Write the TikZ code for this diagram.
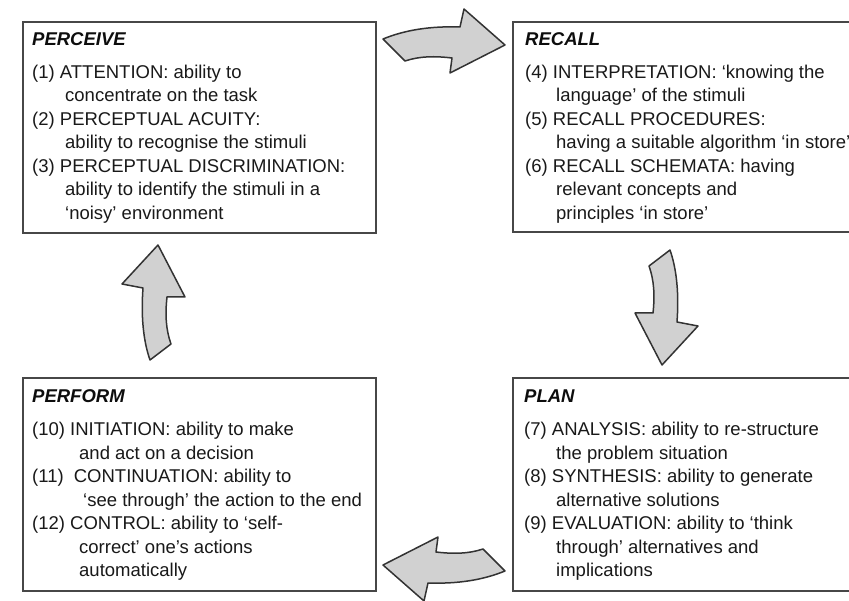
\documentclass[tikz,border=0pt]{standalone}
\usepackage{fontspec}
\setmainfont{Liberation Sans}
\begin{document}
\newcommand{\itemfont}{\fontsize{18.5}{23.5}\selectfont\color{black!90}}
\newcommand{\titlefont}{\fontsize{18.5}{23.5}\selectfont\bfseries\itshape\color{black!95}}
\begin{tikzpicture}[x=1pt,y=-1pt,
  stagebox/.style={draw=black!72, line width=2.4pt, fill=white},
  stagetitle/.style={anchor=base west, inner sep=0pt, font=\titlefont},
  stagebody/.style={anchor=base west, inner sep=0pt, font=\itemfont},
  blockarrow/.style={draw=black!80, line width=1.5pt, fill=black!18, line join=round}]
\useasboundingbox (0,0) rectangle (849,601);
\clip (0,0) rectangle (849,601);

% the four stage boxes (the right-hand ones run past the page edge)
\draw[stagebox] (23,22) rectangle (376,233) node[pos=0, coordinate] (perceive) {};
\draw[stagebox] (513,22) rectangle (880,232) node[pos=0, coordinate] (recall) {};
\draw[stagebox] (513,378) rectangle (880,591) node[pos=0, coordinate] (plan) {};
\draw[stagebox] (23,378) rectangle (376,591) node[pos=0, coordinate] (perform) {};

% PERCEIVE
\node[stagetitle] (perceive-title) at (32,46) {PERCEIVE};
\node[stagebody] (perceive-body) at (32,78.5) {\begin{tabular}[t]{@{}l@{}}
(1) ATTENTION: ability to\\
\hspace*{33pt}concentrate on the task\\
(2) PERCEPTUAL ACUITY:\\
\hspace*{33pt}ability to recognise the stimuli\\
(3) PERCEPTUAL DISCRIMINATION:\\
\hspace*{33pt}ability to identify the stimuli in a\\
\hspace*{33pt}`noisy' environment
\end{tabular}};

% RECALL
\node[stagetitle] (recall-title) at (525,46) {RECALL};
\node[stagebody] (recall-body) at (525,78.5) {\begin{tabular}[t]{@{}l@{}}
(4) INTERPRETATION: `knowing the\\
\hspace*{31pt}language' of the stimuli\\
(5) RECALL PROCEDURES:\\
\hspace*{31pt}having a suitable algorithm `in store'\\
(6) RECALL SCHEMATA: having\\
\hspace*{31pt}relevant concepts and\\
\hspace*{31pt}principles `in store'
\end{tabular}};

% PLAN
\node[stagetitle] (plan-title) at (524,403) {PLAN};
\node[stagebody] (plan-body) at (524,436) {\begin{tabular}[t]{@{}l@{}}
(7) ANALYSIS: ability to re-structure\\
\hspace*{32pt}the problem situation\\
(8) SYNTHESIS: ability to generate\\
\hspace*{32pt}alternative solutions\\
(9) EVALUATION: ability to `think\\
\hspace*{32pt}through' alternatives and\\
\hspace*{32pt}implications
\end{tabular}};

% PERFORM
\node[stagetitle] (perform-title) at (32,403) {PERFORM};
\node[stagebody] (perform-body) at (32,436) {\begin{tabular}[t]{@{}l@{}}
(10) INITIATION: ability to make\\
\hspace*{47pt}and act on a decision\\
(11)\hspace{5pt} CONTINUATION: ability to\\
\hspace*{51pt}`see through' the action to the end\\
(12) CONTROL: ability to `self-\\
\hspace*{47pt}correct' one's actions\\
\hspace*{47pt}automatically
\end{tabular}};

% bent block arrows running round the cycle
% perceive -> recall
\draw[blockarrow] (383,39) .. controls (405,30) and (430,26) .. (460,27)
  -- (464,9) -- (505,45) -- (450,73) -- (452,58)
  .. controls (435,56) and (420,56) .. (405,61) -- cycle;
% recall -> plan
\draw[blockarrow] (670,250) .. controls (677,270) and (679,295) .. (677,322)
  -- (698,326) -- (662,365) -- (635,313) -- (653,313)
  .. controls (655,295) and (654,280) .. (649,266) -- cycle;
% plan -> perform
\draw[blockarrow] (505,571) .. controls (483,580) and (458,584) .. (428,583)
  -- (424,601) -- (383,565) -- (438,537) -- (436,552)
  .. controls (453,554) and (468,554) .. (483,549) -- cycle;
% perform -> perceive
\draw[blockarrow] (150,360) .. controls (143,340) and (141,315) .. (143,288)
  -- (122,284) -- (158,245) -- (185,297) -- (167,297)
  .. controls (165,315) and (166,330) .. (171,344) -- cycle;
\end{tikzpicture}
\end{document}
